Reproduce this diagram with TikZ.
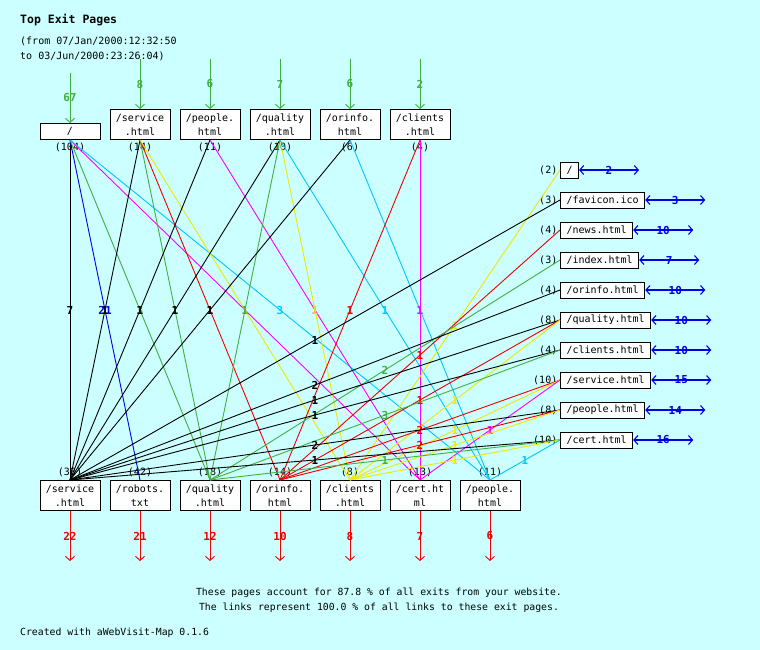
\documentclass[tikz,border=0pt]{standalone}
\usepackage{fontspec}
\setmonofont{DejaVu Sans Mono}
\usetikzlibrary{arrows.meta}

\definecolor{bg}{HTML}{CCFFFF}
\definecolor{cEntry}{RGB}{64,176,64}
\definecolor{cService}{RGB}{0,0,0}
\definecolor{cRobots}{RGB}{0,0,235}
\definecolor{cQuality}{RGB}{64,176,64}
\definecolor{cOrinfo}{RGB}{240,0,0}
\definecolor{cClients}{RGB}{240,232,0}
\definecolor{cCert}{RGB}{255,0,255}
\definecolor{cPeople}{RGB}{0,200,255}
\definecolor{cVisits}{RGB}{0,0,230}
\newcommand{\boxfont}{\fontsize{10}{14}\selectfont\ttfamily}
\newcommand{\numfont}{\fontsize{11}{12}\selectfont\ttfamily\bfseries}

\begin{document}
\begin{tikzpicture}[x=1pt,y=-1pt,
  pagebox/.style={draw,fill=white,line width=1pt,font=\boxfont,align=center,inner sep=1pt,minimum width=60pt,minimum height=30pt},
  rightbox/.style={draw,fill=white,line width=1pt,font=\boxfont,inner xsep=6pt,inner ysep=1pt,minimum height=16pt},
  hits/.style={font=\boxfont,inner sep=2.5pt},
  link/.style={line width=0.9pt},
  lbl/.style={font=\numfont,inner sep=0pt},
  barb/.style={-{Straight Barb[length=4pt,width=9pt]}}]
\fill[bg] (0,0) rectangle (760,650);
\useasboundingbox (0,0) rectangle (760,650);

% header
\node[anchor=base west,inner sep=0pt,font=\fontsize{11.5}{14}\selectfont\ttfamily\bfseries] (title) at (20,24) {Top Exit Pages};
\node[anchor=base west,inner sep=0pt,font=\boxfont] (from) at (20,45) {(from 07/Jan/2000:12:32:50};
\node[anchor=base west,inner sep=0pt,font=\boxfont] (to) at (20,60) {to 03/Jun/2000:23:26:04)};

% entry pages
\node[pagebox,minimum height=16pt,anchor=south,label={[hits]below:(104)}] (t1) at (70,140) {/};
\node[pagebox,anchor=south,label={[hits]below:(14)}] (t2) at (140,140) {/service\\.html};
\node[pagebox,anchor=south,label={[hits]below:(11)}] (t3) at (210,140) {/people.\\html};
\node[pagebox,anchor=south,label={[hits]below:(10)}] (t4) at (280,140) {/quality\\.html};
\node[pagebox,anchor=south,label={[hits]below:(6)}] (t5) at (350,140) {/orinfo.\\html};
\node[pagebox,anchor=south,label={[hits]below:(4)}] (t6) at (420,140) {/clients\\.html};

% exit pages
\node[pagebox,anchor=north,label={[hits]above:(38)}] (b1) at (70,480) {/service\\.html};
\node[pagebox,anchor=north,label={[hits]above:(42)}] (b2) at (140,480) {/robots.\\txt};
\node[pagebox,anchor=north,label={[hits]above:(18)}] (b3) at (210,480) {/quality\\.html};
\node[pagebox,anchor=north,label={[hits]above:(14)}] (b4) at (280,480) {/orinfo.\\html};
\node[pagebox,anchor=north,label={[hits]above:(8)}] (b5) at (350,480) {/clients\\.html};
\node[pagebox,anchor=north,label={[hits]above:(13)}] (b6) at (420,480) {/cert.ht\\ml};
\node[pagebox,anchor=north,label={[hits]above:(11)}] (b7) at (490,480) {/people.\\html};

% pages in between
\node[rightbox,anchor=west,label={[hits]left:(2)}] (r1) at (560,170) {/};
\node[rightbox,anchor=west,label={[hits]left:(3)}] (r2) at (560,200) {/favicon.ico};
\node[rightbox,anchor=west,label={[hits]left:(4)}] (r3) at (560,230) {/news.html};
\node[rightbox,anchor=west,label={[hits]left:(3)}] (r4) at (560,260) {/index.html};
\node[rightbox,anchor=west,label={[hits]left:(4)}] (r5) at (560,290) {/orinfo.html};
\node[rightbox,anchor=west,label={[hits]left:(8)}] (r6) at (560,320) {/quality.html};
\node[rightbox,anchor=west,label={[hits]left:(4)}] (r7) at (560,350) {/clients.html};
\node[rightbox,anchor=west,label={[hits]left:(10)}] (r8) at (560,380) {/service.html};
\node[rightbox,anchor=west,label={[hits]left:(8)}] (r9) at (560,410) {/people.html};
\node[rightbox,anchor=west,label={[hits]left:(10)}] (r10) at (560,440) {/cert.html};

% entries and exits
\foreach \n/\val in {t1/67,t2/8,t3/6,t4/7,t5/6,t6/2}{
  \coordinate (in-\n) at ([yshift=50pt]\n.north);
  \draw[barb,link,cEntry] (in-\n) -- node[lbl,text=cEntry]{\val} (\n.north);
}
\foreach \n/\val in {b1/22,b2/21,b3/12,b4/10,b5/8,b6/7,b7/6}{
  \coordinate (out-\n) at ([yshift=-50pt]\n.south);
  \draw[barb,link,cOrinfo] (\n.south) -- node[lbl,text=cOrinfo]{\val} (out-\n);
}
\foreach \n/\val in {r1/2,r2/3,r3/10,r4/7,r5/10,r6/10,r7/10,r8/15,r9/14,r10/16}{
  \coordinate (far-\n) at ([xshift=60pt]\n.east);
  \draw[cVisits,line width=1.1pt,{Straight Barb[length=4pt,width=9pt]}-{Straight Barb[length=4pt,width=9pt]}] (\n.east) -- node[lbl,text=cVisits]{\val} (far-\n);
}

% links entry -> exit
\foreach \src/\dst/\col/\val in {t1/b1/cService/7,t1/b2/cRobots/21,t1/b3/cQuality/3,t1/b6/cCert/1,t1/b7/cPeople/3,
  t2/b1/cService/1,t2/b3/cQuality/1,t2/b4/cOrinfo/1,t2/b5/cClients/1,
  t3/b1/cService/1,t3/b6/cCert/1,
  t4/b1/cService/1,t4/b3/cQuality/1,t4/b5/cClients/1,t4/b7/cPeople/1,
  t5/b1/cService/1,t5/b7/cPeople/1,
  t6/b4/cOrinfo/1,t6/b6/cCert/1}{
  \draw[link,\col] (\src.south) -- node[lbl,text=\col]{\val} (\dst.north);
}

% links page -> exit
\foreach \src/\dst/\col/\val in {r1/b5/cClients/1,r2/b1/cService/1,r3/b4/cOrinfo/1,r4/b3/cQuality/2,r5/b1/cService/2,
  r6/b1/cService/1,r6/b4/cOrinfo/1,r6/b5/cClients/1,
  r7/b1/cService/1,r7/b3/cQuality/3,
  r8/b4/cOrinfo/2,r8/b5/cClients/1,r8/b6/cCert/1,
  r9/b1/cService/2,r9/b4/cOrinfo/2,r9/b5/cClients/1,
  r10/b1/cService/1,r10/b3/cQuality/1,r10/b5/cClients/1,r10/b7/cPeople/1}{
  \draw[link,\col] (\src.west) -- node[lbl,text=\col]{\val} (\dst.north);
}

% footer
\node[anchor=base,inner sep=0pt,font=\fontsize{9.8}{12}\selectfont\ttfamily] (share) at (379,595) {These pages account for 87.8 \% of all exits from your website.};
\node[anchor=base,inner sep=0pt,font=\fontsize{9.8}{12}\selectfont\ttfamily] (links) at (379,610) {The links represent 100.0 \% of all links to these exit pages.};
\node[anchor=base west,inner sep=0pt,font=\fontsize{9.8}{12}\selectfont\ttfamily] (made) at (20,635) {Created with aWebVisit-Map 0.1.6};
\end{tikzpicture}
\end{document}
